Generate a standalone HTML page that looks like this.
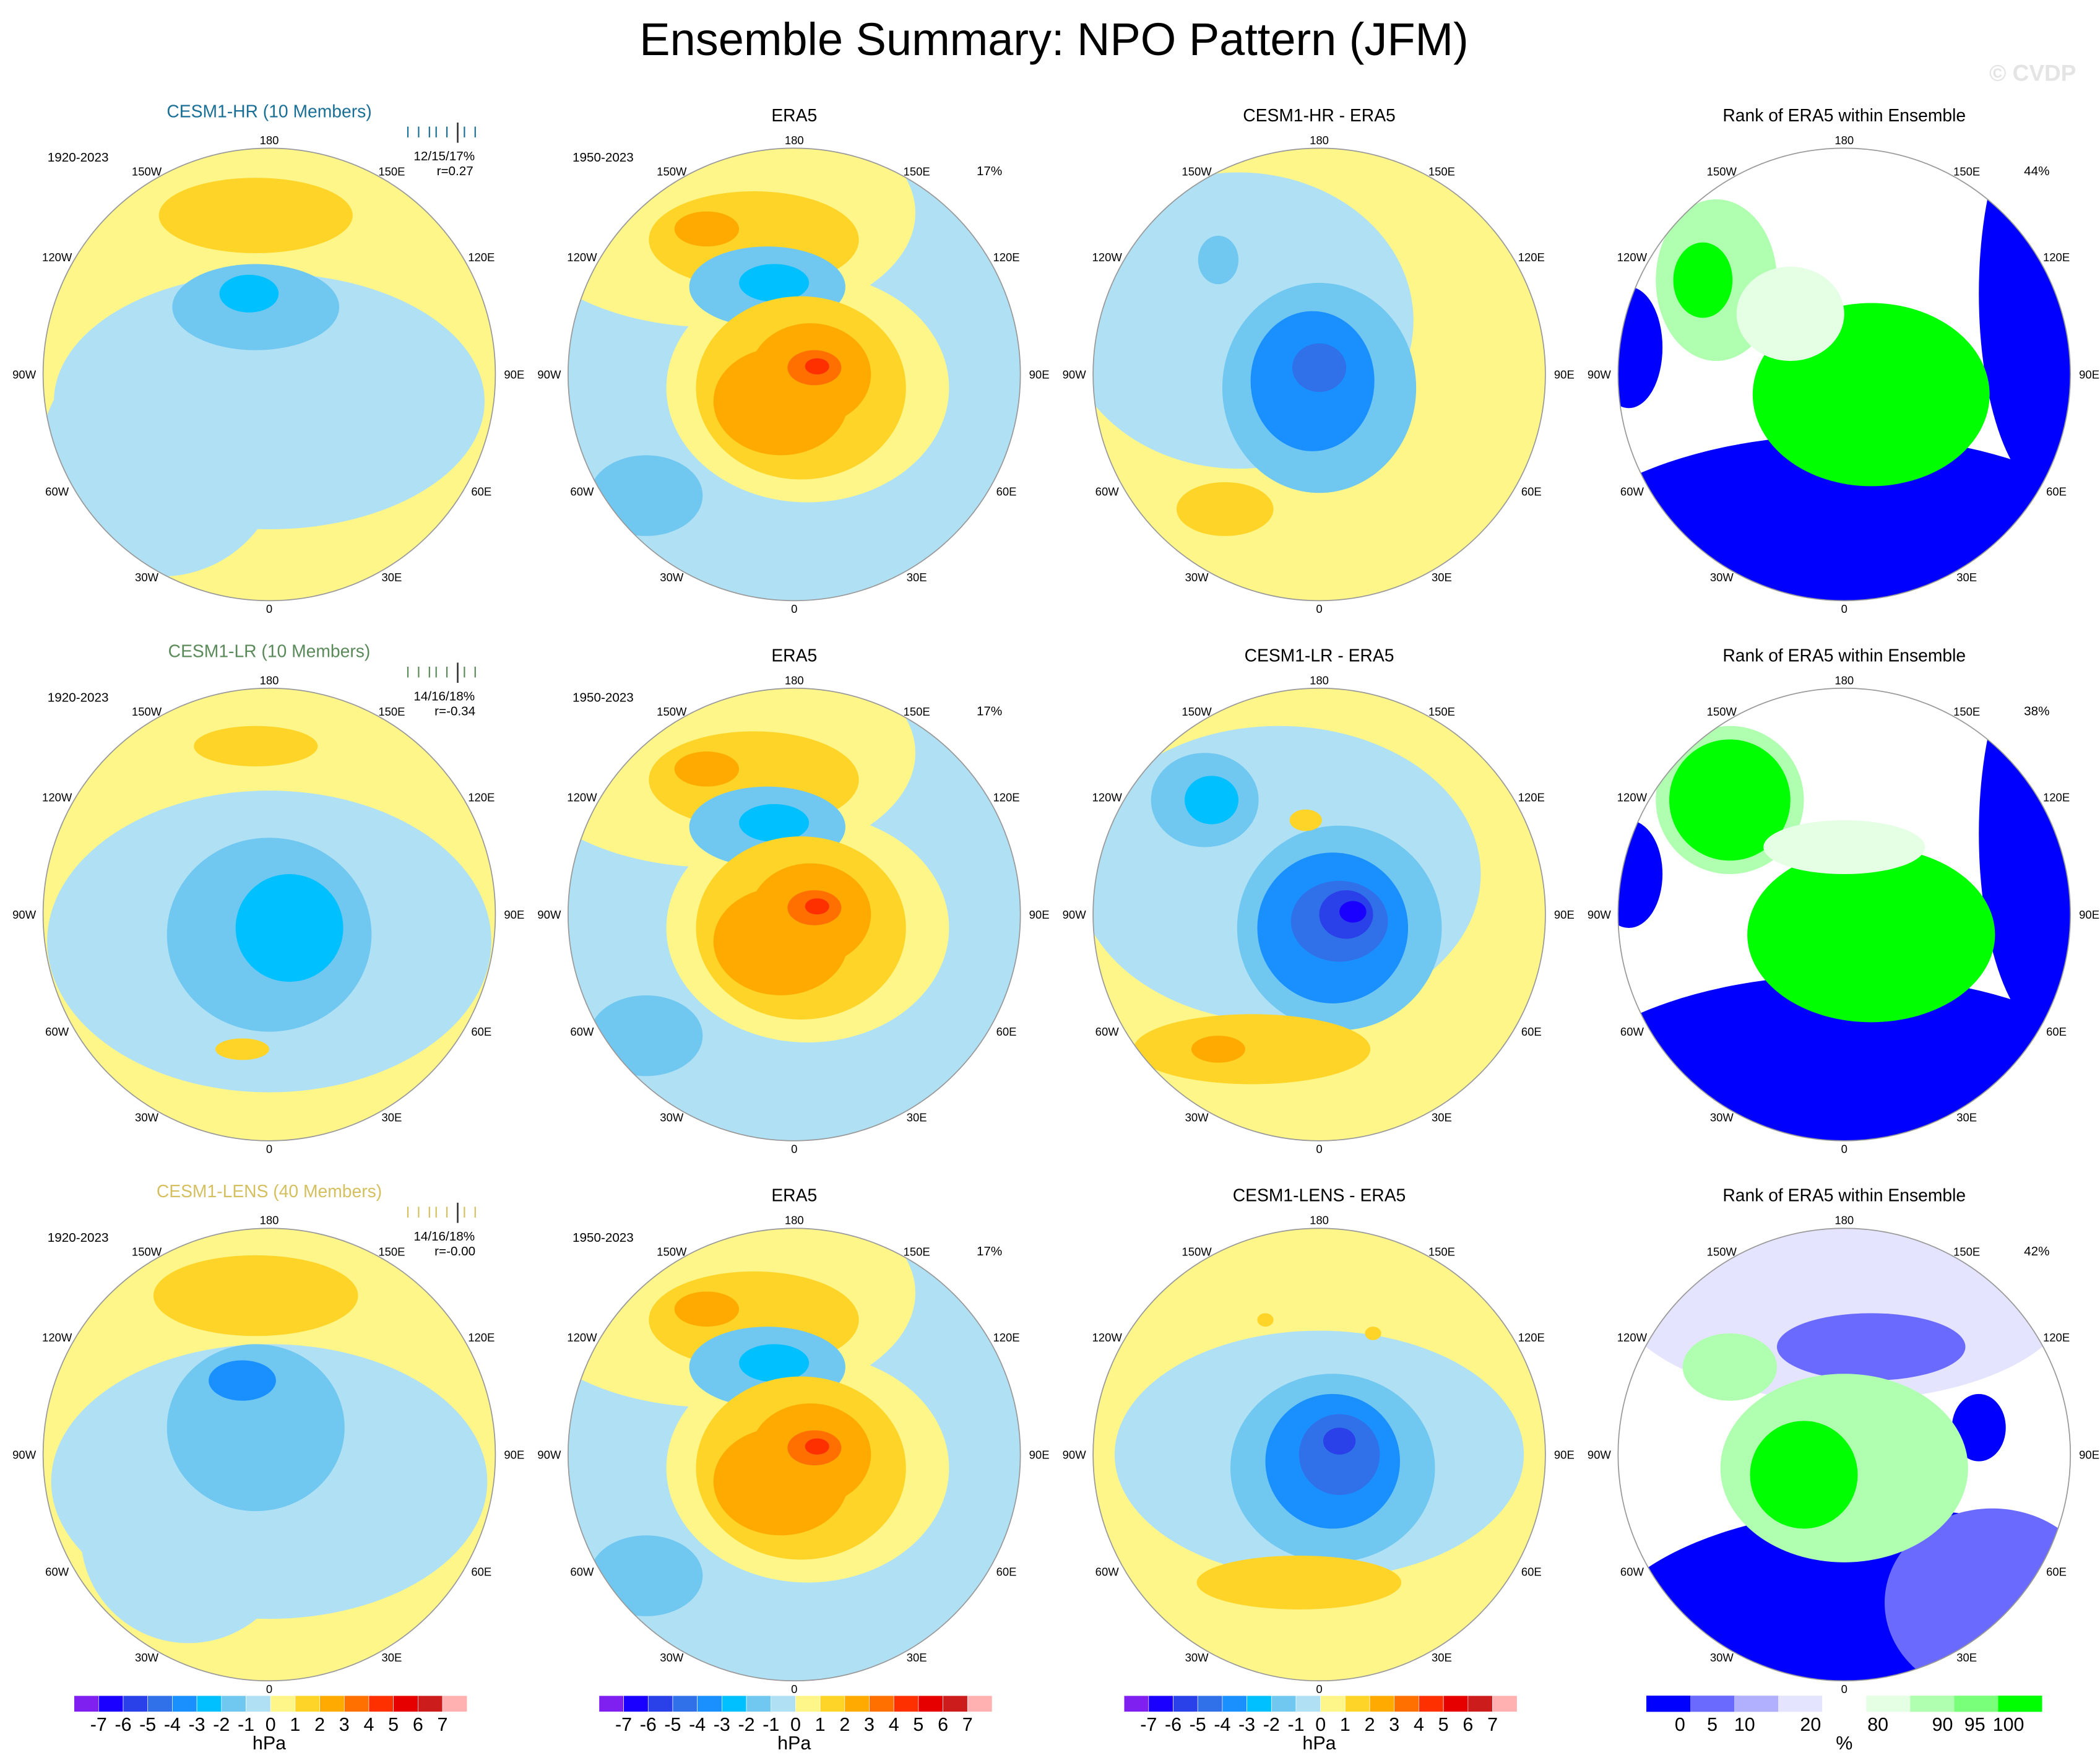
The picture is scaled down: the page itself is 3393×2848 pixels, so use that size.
<!DOCTYPE html>
<html><head><meta charset="utf-8">
<style>
html,body{margin:0;padding:0;background:#fff;}
svg{display:block;font-family:"Liberation Sans",sans-serif;}
</style></head>
<body>
<svg id="fig" width="3393" height="2848" viewBox="0 0 1560 1309" preserveAspectRatio="none" xmlns="http://www.w3.org/2000/svg">
<rect width="1560" height="1309" fill="#fff"/>
<text x="783" y="41" font-size="34" text-anchor="middle">Ensemble Summary: NPO Pattern (JFM)</text>
<text x="1510" y="60" font-size="17" font-weight="bold" fill="#e4e4e4" text-anchor="middle">© CVDP</text>
<g id="panels"></g>
</svg>
<script>
const hpaColors=["#7f1ff0","#1a00ff","#2a40e8","#3070e8","#1a90ff","#00c0ff","#70c8f0","#b0e0f4","#fff68a","#ffd428","#ffaa00","#ff7000","#ff3000","#e60000","#cc1c1c","#ffb0b0"];
const hpaLabels=["-7","-6","-5","-4","-3","-2","-1","0","1","2","3","4","5","6","7"];
const rankColors=["#0000ff","#6a6aff","#b0b0ff","#e4e4ff","#ffffff","#e4ffe4","#b0ffb0","#7aff7a","#00ff00"];
const rankLabels=["0","5","10","20","80","90","95","100"];
const rankLabelX=[1248,1272,1296,1345,1395,1443,1467,1492];
const colX=[200,590,980,1370];
const rowY=[278,679,1080];
const R=168;
// blobs: [dx,dy,rx,ry,colorIndex]
const eraBlobs=[[-60,-120,150,85,8],[10,10,105,85,8],[-30,-100,78,36,9],[-65,-108,24,13,10],[-20,-65,58,30,6],[-15,-68,26,14,5],[5,10,78,68,9],[-10,20,50,40,10],[12,0,45,38,10],[15,-5,20,13,11],[17,-6,9,6,12],[-110,90,42,30,6]];
const panelBg=[[8,7,8,4],[8,7,8,4],[8,7,8,4]];
const panelBlobs=[
 [
  [[0,20,160,95,7],[-80,60,90,90,7],[-10,-50,62,32,6],[-15,-60,22,14,5],[-10,-118,72,28,9]],
  eraBlobs,
  [[-60,-40,130,110,7],[0,10,72,78,6],[-5,5,46,52,4],[0,-5,20,18,3],[-75,-85,15,18,6],[-70,100,36,20,9]],
  [[0,165,235,120,0],[155,-60,55,150,0],[-160,-20,25,45,0],[-95,-70,45,60,6],[-105,-70,22,28,8],[20,15,88,68,8],[-40,-45,40,35,5]]
 ],[
  [[0,20,165,112,7],[0,15,76,72,6],[15,10,40,40,5],[-10,-125,46,15,9],[-20,100,20,8,9]],
  eraBlobs,
  [[-30,-30,150,110,7],[-85,-85,40,35,6],[-80,-85,20,18,5],[15,10,76,76,6],[10,10,56,56,4],[15,5,36,30,3],[20,0,20,18,2],[25,-2,10,8,1],[-50,100,88,26,9],[-75,100,20,10,10],[-10,-70,12,8,9]],
  [[0,165,235,120,0],[155,-60,55,150,0],[-160,-30,25,40,0],[-85,-85,55,55,6],[-85,-85,45,45,8],[20,15,92,65,8],[0,-50,60,20,5]]
 ],[
  [[0,20,162,102,7],[-60,60,80,80,7],[-10,-20,66,62,6],[-20,-55,25,15,4],[-10,-118,76,30,9]],
  eraBlobs,
  [[0,0,152,92,7],[10,10,76,70,6],[10,5,50,50,4],[15,0,30,30,3],[15,-10,12,10,2],[-15,95,76,20,9],[-40,-100,6,5,9],[40,-90,6,5,9]],
  [[0,-120,170,80,3],[20,-80,70,25,1],[30,150,220,110,0],[110,110,80,70,1],[-100,170,80,40,0],[100,-20,20,25,0],[0,10,92,70,6],[-30,15,40,40,8],[-85,-65,35,25,6]]
 ]];
const colTitles=[["CESM1-HR (10 Members)","ERA5","CESM1-HR - ERA5","Rank of ERA5 within Ensemble"],["CESM1-LR (10 Members)","ERA5","CESM1-LR - ERA5","Rank of ERA5 within Ensemble"],["CESM1-LENS (40 Members)","ERA5","CESM1-LENS - ERA5","Rank of ERA5 within Ensemble"]];
const titleColors=["#1a6f96","#5a8a5a","#d4c060"];
const stats=[["12/15/17%","r=0.27"],["14/16/18%","r=-0.34"],["14/16/18%","r=-0.00"]];
const rankPct=["44%","38%","42%"];
const lonLabels=[["180",0],["150E",30],["120E",60],["90E",90],["60E",120],["30E",150],["0",180],["30W",210],["60W",240],["90W",270],["120W",300],["150W",330]];
const NS="http://www.w3.org/2000/svg";
const g=document.getElementById('panels');
function mk(tag,attrs,parent){const e=document.createElementNS(NS,tag);for(const k in attrs)e.setAttribute(k,attrs[k]);(parent||g).appendChild(e);return e;}
for(let r=0;r<3;r++){for(let c=0;c<4;c++){
 const cx=colX[c],cy=rowY[r];
 const pg=mk('g',{});
 
 
 const cp=mk('clipPath',{id:'cp'+r+c},pg);mk('circle',{cx:cx,cy:cy,r:R},cp);
 const inner=mk('g',{'clip-path':'url(#cp'+r+c+')'},pg);
 const pal=c===3?rankColors:hpaColors;
 const bg=mk('rect',{x:cx-R,y:cy-R,width:2*R,height:2*R,fill:pal[panelBg[r][c]]},inner);
 
 
 for(const b of panelBlobs[r][c]){
  const e=mk('ellipse',{cx:cx+b[0],cy:cy+b[1],rx:b[2],ry:b[3],fill:pal[b[4]]},inner);
  
  
 }
 const ring=mk('circle',{cx:cx,cy:cy,r:R,fill:'none',stroke:'#999','stroke-width':0.8},pg);
 
 
 for(const L of lonLabels){
  const a=L[1]*Math.PI/180;
  const x=cx+Math.sin(a)*182, y=cy-Math.cos(a)*174+3;
  const t=mk('text',{x:x,y:y,'font-size':8.5,'text-anchor':'middle'},pg);t.textContent=L[0];
  
  
 }
 const ty=rowY[r]-(c===0?191:188);
 const tt=mk('text',{x:cx,y:ty,'font-size':13,'text-anchor':'middle',fill:c===0?titleColors[r]:'#000'},pg);tt.textContent=colTitles[r][c];
 
 
 if(c<2){const d=mk('text',{x:cx-142,y:cy-158,'font-size':9.5,'text-anchor':'middle'},pg);d.textContent=c===0?'1920-2023':'1950-2023';
  
  }
 if(c===1){const p=mk('text',{x:cx+145,y:cy-148,'font-size':9.5,'text-anchor':'middle'},pg);p.textContent='17%';
  
  }
 if(c===3){const p=mk('text',{x:cx+143,y:cy-148,'font-size':9.5,'text-anchor':'middle'},pg);p.textContent=rankPct[r];
  
  }
 if(c===0){
  const s1=mk('text',{x:cx+130,y:cy-159,'font-size':9.5,'text-anchor':'middle'},pg);s1.textContent=stats[r][0];
  
  
  const s2=mk('text',{x:cx+138,y:cy-148,'font-size':9.5,'text-anchor':'middle'},pg);s2.textContent=stats[r][1];
  
  
  const tc=titleColors[r];
  for(let k=0;k<8;k++){const lx=cx+103+k*7+(k%3);mk('line',{x1:lx,x2:lx,y1:cy-184,y2:cy-176,stroke:tc,'stroke-width':1},pg);}
  mk('line',{x1:cx+140,x2:cx+140,y1:cy-187,y2:cy-172,stroke:'#333','stroke-width':1.2},pg);
 }
}}
for(let c=0;c<4;c++){
 const cb=mk('g',{});
 
 
 if(c<3){
  const x0=colX[c]-145,w=292/16;
  hpaColors.forEach((col,i)=>{mk('rect',{x:x0+i*w,y:1259,width:w,height:12,fill:col,stroke:'#fff','stroke-width':0.3},cb);});
  hpaLabels.forEach((l,i)=>{const t=mk('text',{x:x0+(i+1)*w,y:1285,'font-size':14,'text-anchor':'middle'},cb);t.textContent=l;});
  const u=mk('text',{x:colX[c],y:1299,'font-size':14,'text-anchor':'middle'},cb);u.textContent='hPa';
 }else{
  const x0=1223,w=294/9;
  rankColors.forEach((col,i)=>{mk('rect',{x:x0+i*w,y:1259,width:w,height:12,fill:col},cb);});
  rankLabels.forEach((l,i)=>{const t=mk('text',{x:rankLabelX[i],y:1285,'font-size':14,'text-anchor':'middle'},cb);t.textContent=l;});
  const u=mk('text',{x:1370,y:1299,'font-size':14,'text-anchor':'middle'},cb);u.textContent='%';
 }
}
</script>
</body></html>
